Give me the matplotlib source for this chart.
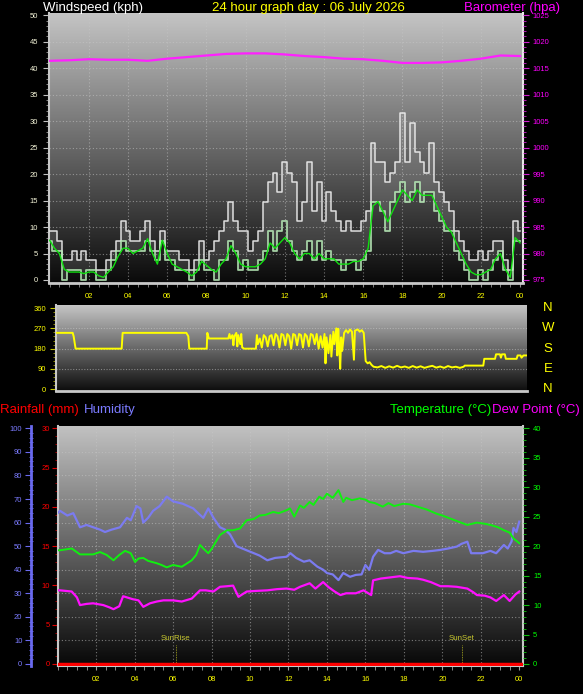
import numpy as np
import matplotlib
matplotlib.use("Agg")
import matplotlib.pyplot as plt
from matplotlib.ticker import MultipleLocator

plt.rcParams['font.family'] = ['Liberation Sans', 'DejaVu Sans']

W, H = 583, 694

# ---- wind speed (kph), 15 minute samples ----
wind_hours = np.arange(0, 24.01, 0.25)
gust = [9.2, 9.2, 7.4, 3.7, 3.7, 5.5, 3.7, 5.5,
        3.7, 3.7, 1.8, 1.8, 3.7, 5.5, 7.4, 11.1,
        9.2, 7.4, 7.4, 9.2, 11.1, 7.4, 5.5, 9.2,
        5.5, 5.5, 5.5, 3.7, 3.7, 1.8, 3.7, 7.4,
        3.7, 5.5, 7.4, 9.2, 11.1, 14.8, 11.1, 9.2,
        9.2, 5.5, 7.4, 9.2, 14.8, 18.5, 20.3, 16.6,
        22.2, 20.3, 18.5, 11.1, 14.8, 22.2, 13.0, 18.5,
        11.1, 16.6, 13.0, 11.1, 9.2, 11.1, 9.2, 9.2,
        11.1, 13.0, 25.9, 22.2, 22.2, 18.5, 20.3, 22.2,
        31.5, 22.2, 29.6, 24.1, 22.2, 20.3, 25.9, 18.5,
        16.6, 14.8, 13.0, 9.2, 7.4, 5.5, 3.7, 3.7,
        5.5, 3.7, 5.5, 7.4, 7.4, 3.7, 1.8, 11.1,
        9.2]
speed = [7.4, 5.5, 5.5, 0, 1.8, 1.8, 1.8, 0,
         1.8, 1.8, 0, 0, 1.8, 3.7, 5.5, 7.4,
         5.5, 5.5, 5.5, 5.5, 7.4, 5.5, 3.7, 7.4,
         3.7, 3.7, 1.8, 1.8, 1.8, 0, 1.8, 3.7,
         1.8, 1.8, 0, 3.7, 3.7, 7.4, 5.5, 1.8,
         3.7, 1.8, 1.8, 3.7, 5.5, 9.2, 5.5, 9.2,
         11.1, 7.4, 5.5, 3.7, 5.5, 7.4, 3.7, 7.4,
         3.7, 5.5, 3.7, 3.7, 1.8, 3.7, 3.7, 1.8,
         3.7, 5.5, 14.8, 14.8, 13.0, 9.2, 14.8, 16.6,
         18.5, 14.8, 16.6, 18.5, 14.8, 16.6, 16.6, 13.0,
         11.1, 9.2, 9.2, 5.5, 3.7, 1.8, 0, 0,
         1.8, 0, 1.8, 3.7, 5.5, 1.8, 0, 7.4,
         7.4]
avg_speed = [7.5, 6.0, 5.0, 2.0, 1.5, 1.5, 1.5, 1.2,
             1.5, 1.5, 0.8, 0.5, 1.5, 2.5, 4.5, 6.0,
             6.0, 5.0, 5.5, 6.0, 7.8, 5.0, 3.0, 7.5,
             5.0, 3.0, 2.5, 2.0, 1.5, 0.8, 1.5, 3.5,
             2.8, 2.0, 1.5, 3.0, 4.0, 6.5, 5.0, 3.0,
             2.5, 2.5, 2.5, 3.0, 4.0, 7.0, 6.0, 7.0,
             8.0, 7.0, 5.0, 4.0, 5.0, 5.0, 4.0, 5.0,
             4.0, 4.0, 4.0, 3.0, 3.0, 3.0, 3.5, 3.5,
             4.0, 6.0, 14.0, 14.8, 13.0, 11.0, 13.0, 15.0,
             17.0, 16.0, 15.0, 17.0, 16.0, 16.0, 16.0, 14.0,
             12.0, 10.0, 9.0, 7.0, 5.0, 3.0, 1.5, 1.0,
             1.0, 1.5, 2.0, 4.0, 5.0, 2.0, 0.5, 8.0,
             7.0]

# ---- barometer (hPa), hourly ----
baro_hours = list(range(25))
baro = [1016.4, 1016.5, 1016.7, 1016.6, 1016.6, 1016.4, 1016.8, 1017.1,
        1017.4, 1017.7, 1017.8, 1017.8, 1017.6, 1017.3, 1017.1, 1016.8,
        1016.7, 1016.4, 1016.0, 1016.0, 1016.1, 1016.4, 1016.8, 1017.4,
        1017.3]

# ---- wind direction (deg) ----
dir_hours = [0.0, 0.85, 0.9, 1.0, 3.35, 3.4, 6.65, 6.75, 6.8, 7.69, 7.72, 7.8, 8.79,
             8.85, 8.9, 9.0, 9.05, 9.1, 9.2, 9.25, 9.3, 9.4, 9.45, 9.5, 9.6, 10.2,
             10.25, 10.3, 10.4, 10.5, 10.6, 10.7, 10.8, 10.9, 11.0, 11.1, 11.2, 11.3,
             11.4, 11.5, 11.6, 11.7, 11.8, 11.9, 12.0, 12.1, 12.2, 12.3, 12.4, 12.5,
             12.6, 12.7, 12.8, 12.9, 13.0, 13.1, 13.2, 13.3, 13.4, 13.5, 13.6, 13.7,
             13.75, 13.8, 13.9, 14.0, 14.05, 14.15, 14.2, 14.3, 14.35, 14.4, 14.45,
             14.5, 14.55, 14.6, 14.7, 14.8, 14.9, 15.0, 15.1, 15.2, 15.25, 15.4, 15.5,
             15.6, 15.7, 15.8, 15.9, 16.0, 16.1, 16.2, 16.4, 16.6, 16.8, 17.0, 17.2,
             17.4, 17.6, 17.8, 18.0, 18.2, 18.4, 18.6, 18.8, 19.0, 19.2, 19.4, 19.6,
             19.8, 20.0, 20.2, 20.4, 20.6, 20.8, 20.85, 21.8, 21.85, 22.4, 22.45,
             22.65, 22.7, 22.75, 22.9, 22.95, 23.5, 23.55, 23.7, 23.75, 23.85, 24.0]
dir_deg = [250, 250, 235, 180, 180, 250, 250, 235, 180, 180, 250, 225, 225,
           245, 225, 240, 195, 235, 250, 190, 240, 200, 245, 185, 180, 180,
           240, 200, 225, 185, 240, 230, 190, 235, 240, 195, 245, 235,
           185, 245, 240, 195, 245, 235, 180, 245, 240, 195, 245, 240,
           185, 245, 235, 190, 245, 240, 200, 245, 180, 235, 185, 245,
           115, 230, 160, 240, 145, 255, 200, 270, 150, 268, 190,
           91, 230, 170, 250, 262, 250, 265, 255, 131, 260, 265, 255,
           262, 250, 125, 115, 120, 108, 100, 97, 103, 95, 102, 96,
           104, 97, 101, 95, 103, 96, 102, 95, 100, 104, 96, 101,
           95, 103, 97, 100, 95, 100, 105, 105, 135, 135, 155,
           155, 140, 155, 155, 135, 135, 150, 150, 140, 150, 150]

# ---- humidity (%), temperature and dew point (C) ----
hum_hours = [0.0, 0.12, 0.5, 0.81, 1.16, 1.5, 2.2, 2.46, 2.8, 3.24, 3.6, 3.8, 4.1, 4.3,
             4.45, 4.7, 4.96, 5.3, 5.67, 6.0, 6.5, 7.05, 7.3, 7.57, 7.83, 8.1, 8.44,
             8.7, 8.96, 9.3, 9.6, 10.2, 10.5, 10.9, 11.3, 11.9, 12.1, 12.4, 12.8, 13.1,
             13.5, 13.8, 14.0, 14.3, 14.6, 14.85, 15.2, 15.5, 15.8, 16.0, 16.2, 16.4,
             16.66, 17.0, 17.3, 17.6, 17.97, 18.5, 19.0, 19.5, 19.9, 20.3, 20.75, 21.0,
             21.3, 21.5, 22.1, 22.5, 22.8, 23.2, 23.4, 23.6, 23.7, 23.85, 24.0]
hum = [64, 65, 63, 64, 58, 59, 57, 56, 57, 58, 62, 61, 67, 66,
       60, 62, 65, 67, 71, 69, 68, 66, 64, 62, 66, 62, 58,
       57, 55, 50, 49, 47, 46, 44, 45, 45.5, 47, 45, 43.4, 44,
       41.3, 40, 38.6, 38, 35.6, 38.6, 37, 37.8, 38, 42, 40, 45.5,
       48.4, 47, 47, 48, 47, 48, 47.6, 48, 48.4, 49, 49.8, 51,
       51.9, 47, 47, 48, 47, 50.5, 49, 52, 57.7, 56, 60.4]

temp_hours = [0.0, 0.12, 0.73, 1.16, 1.84, 2.2, 2.55, 2.9, 3.2, 3.5, 3.8, 4.02, 4.2,
              4.45, 4.7, 5.15, 5.4, 5.67, 6.0, 6.45, 6.97, 7.2, 7.4, 7.6, 7.83, 8.0,
              8.27, 8.44, 8.8, 9.12, 9.48, 9.83, 10.2, 10.5, 10.8, 11.2, 11.5, 11.9,
              12.08, 12.3, 12.6, 12.8, 13.1, 13.3, 13.6, 13.8, 14.0, 14.3, 14.6, 14.85,
              15.0, 15.3, 15.7, 16.0, 16.2, 16.5, 16.9, 17.2, 17.5, 17.97, 18.3, 18.7,
              19.2, 19.7, 20.0, 20.4, 20.8, 21.3, 21.8, 22.2, 22.5, 22.9, 23.2, 23.5,
              23.7, 24.0]
temp = [19.3, 19.3, 19.6, 18.6, 18.6, 19.0, 18.5, 17.6, 18.5, 19.2, 18.8, 17.3, 17.9,
        18.0, 17.5, 17.1, 16.8, 16.4, 16.8, 16.5, 17.6, 18.5, 20.2, 19.5, 18.8, 19.5,
        21.0, 21.9, 22.7, 22.7, 23.0, 24.4, 24.6, 25.2, 25.3, 25.8, 25.6, 26.1,
        26.4, 25.0, 26.9, 26.5, 27.5, 27.0, 28.4, 28.0, 28.9, 28.2, 29.5, 27.5,
        28.2, 27.8, 28.1, 27.9, 27.5, 27.3, 26.7, 27.3, 26.8, 27.2, 27.1, 26.7,
        26.2, 25.5, 25.2, 24.7, 24.2, 23.6, 24.0, 23.8, 23.6, 23.2, 22.7, 22.3,
        21.3, 20.5]

dew_hours = [0.0, 0.12, 0.73, 1.0, 1.16, 1.5, 1.84, 2.37, 2.7, 2.9, 3.2, 3.4, 3.9, 4.2,
             4.45, 4.8, 5.15, 5.5, 6.0, 6.45, 6.97, 7.4, 7.7, 8.1, 8.44, 8.8, 9.12, 9.4,
             9.83, 10.3, 10.9, 11.4, 11.9, 12.3, 12.6, 13.1, 13.4, 13.8, 14.1, 14.4,
             14.7, 15.0, 15.5, 15.9, 16.3, 16.4, 16.8, 17.3, 17.8, 18.2, 18.7, 19.0,
             19.4, 19.9, 20.3, 20.75, 21.3, 21.6, 21.8, 22.2, 22.5, 22.8, 23.2, 23.5,
             23.8, 24.0]
dew = [12.5, 12.5, 12.3, 11.3, 10.0, 10.2, 10.3, 10.0, 9.6, 9.3, 9.8, 11.5, 11.0, 10.8,
       9.7, 10.3, 10.6, 10.8, 10.8, 10.6, 11.1, 12.5, 12.5, 12.3, 13.1, 13.2, 13.3, 11.4,
       12.3, 12.4, 12.5, 12.7, 12.8, 12.6, 13.1, 13.7, 12.8, 13.9, 13.0, 12.3,
       11.7, 12.0, 12.0, 12.5, 11.7, 14.2, 14.5, 14.7, 14.9, 14.6, 14.5, 14.3,
       13.9, 13.2, 13.2, 13.1, 12.8, 12.2, 11.7, 11.6, 11.3, 10.7, 11.7, 10.7,
       11.8, 12.3]

rain_hours = [0, 24.2]
rain = [0, 0]

sunrise = 6.15
sunset = 21.0

hour_ticks = list(range(2, 25, 2))
hour_labels = ['02', '04', '06', '08', '10', '12', '14', '16', '18', '20', '22', '00']
dir_ticks = [0, 90, 180, 270, 360]
compass = ['N', 'W', 'S', 'E', 'N']


fig = plt.figure(figsize=(W / 100, H / 100), dpi=100, facecolor='black')


def px_axes(left, top, right, bottom):
    return fig.add_axes([left / W, 1 - bottom / H, (right - left) / W, (bottom - top) / H])


def gradient(ax, top, bot):
    g = np.linspace(top, bot, 256)[:, None]
    img = np.dstack([g, g, g])
    ax.imshow(img, extent=[0, 1, 0, 1], transform=ax.transAxes,
              aspect='auto', zorder=0, interpolation='bilinear')


def ftext(x, y, s, **kw):
    fig.text(x / W, 1 - y / H, s, **kw)


grid_kw = dict(color='#c8c8c8', alpha=0.55, lw=0.8, linestyle=(0, (1, 2)))
tick_font = 5.5

# ================= top: wind speed / barometer =================
ax1 = px_axes(49, 13, 523, 283)
gradient(ax1, 0.77, 0.04)
ax1.fill_between(wind_hours, speed, gust, step='mid', color='white', alpha=0.12, lw=0, zorder=2)
ax1.step(wind_hours, gust, where='mid', color='#f0f0f0', lw=1.1, alpha=0.9, zorder=3)
ax1.step(wind_hours, speed, where='mid', color='#b8ecb8', lw=1.3, alpha=0.85, zorder=4)
ax1.plot(wind_hours, avg_speed, color='#10e010', lw=1.0, zorder=5)
ax1.set_xlim(-0.03, 24.15)
ax1.set_ylim(-0.57, 50.43)
for v in range(5, 50, 5):
    ax1.axhline(v, zorder=1, **grid_kw)
for h in hour_ticks[:-1]:
    ax1.axvline(h, zorder=1, **grid_kw)
ax1.set_xticks(hour_ticks)
ax1.set_xticklabels(hour_labels)
ax1.xaxis.set_minor_locator(MultipleLocator(0.5))
ax1.yaxis.set_major_locator(MultipleLocator(5))
ax1.yaxis.set_minor_locator(MultipleLocator(1))
ax1.tick_params(axis='x', which='both', colors='#909090', labelcolor='#ffff00',
                labelsize=tick_font, length=3, pad=4)
ax1.tick_params(axis='y', which='major', colors='#c0c0c0', labelcolor='#f4f4d8',
                labelsize=tick_font, length=4, pad=4)
ax1.tick_params(axis='y', which='minor', colors='#a0a0a0', length=2)
ax1.spines['top'].set_visible(False)
ax1.spines['left'].set_color('#c8c8c8')
ax1.spines['left'].set_linewidth(1.5)
ax1.spines['bottom'].set_color('#c8c8c8')
ax1.spines['bottom'].set_linewidth(2)
ax1.spines['right'].set_color('#e8e8e8')
ax1.spines['right'].set_linewidth(1.5)

ax1b = ax1.twinx()
ax1b.plot(baro_hours, baro, color='#ff20ff', lw=1.6)
ax1b.set_ylim(974.43, 1025.43)
ax1b.yaxis.set_major_locator(MultipleLocator(5))
ax1b.yaxis.set_minor_locator(MultipleLocator(1))
ax1b.tick_params(axis='y', which='major', colors='#d020d0', labelcolor='#ff00ff',
                 labelsize=tick_font, length=4, pad=3)
ax1b.tick_params(axis='y', which='minor', colors='#d020d0', length=2)
for s in ax1b.spines.values():
    s.set_visible(False)

ftext(43, 10.5, 'Windspeed (kph)', color='white', fontsize=9.5, va='baseline')
ftext(308, 10.5, '24 hour graph day : 06 July 2026', color='#ffff00', fontsize=9.5,
      va='baseline', ha='center')
ftext(560, 10.5, 'Barometer (hpa)', color='#ff00ff', fontsize=9.5, va='baseline', ha='right')

# ================= middle: wind direction =================
ax2 = px_axes(56, 304.5, 527, 391)
gradient(ax2, 0.78, 0.05)
ax2.plot(dir_hours, dir_deg, color='#ffff00', lw=1.4, zorder=3)
ax2.set_xlim(0, 24.03)
ax2.set_ylim(-7.5, 375.5)
for v in (90, 180, 270):
    ax2.axhline(v, zorder=1, color='#d0d0d0', alpha=0.5, lw=0.8, linestyle=(0, (1, 1.5)))
ax2.set_yticks(dir_ticks)
ax2.yaxis.set_minor_locator(MultipleLocator(18))
ax2.set_xticks([])
ax2.tick_params(axis='y', which='major', colors='#c8c800', labelcolor='#ffff00',
                labelsize=tick_font, length=4, pad=3)
ax2.tick_params(axis='y', which='minor', colors='#a8a800', length=2)
ax2.spines['top'].set_visible(False)
ax2.spines['right'].set_visible(False)
ax2.spines['left'].set_color('#c8c8c8')
ax2.spines['left'].set_linewidth(1.5)
ax2.spines['bottom'].set_color('#c8c8c8')
ax2.spines['bottom'].set_linewidth(2)
for v, lab in zip(dir_ticks[::-1], compass):
    y = 389.3 - v * 0.2258
    ftext(548, y, lab, color='#ffff00', fontsize=9.5, ha='center', va='center')

# ================= bottom: rain / humidity / temperature =================
ax3 = px_axes(57.7, 425.7, 523.3, 666)
gradient(ax3, 0.76, 0.03)
ax3.set_xlim(0, 24.21)
ax3.set_ylim(-0.255, 30.33)
for v in range(3, 30, 3):
    ax3.axhline(v, zorder=1, **grid_kw)
for h in hour_ticks[:-1]:
    ax3.axvline(h, zorder=1, **grid_kw)
ax3.plot(rain_hours, rain, color='#ff0000', lw=2.5, zorder=6)
for t, lab in ((sunrise, 'SunRise'), (sunset, 'SunSet')):
    ax3.plot([t, t], [0, 2.4], color='#b0b020', lw=0.6, linestyle=(0, (1, 1)), zorder=2)
    ax3.text(t, 3.3, lab, color='#c8c830', fontsize=5.7, ha='center', va='center', zorder=2)
ax3.set_xticks(hour_ticks)
ax3.set_xticklabels(hour_labels)
ax3.xaxis.set_minor_locator(MultipleLocator(0.5))
ax3.yaxis.set_major_locator(MultipleLocator(5))
ax3.yaxis.set_minor_locator(MultipleLocator(1))
ax3.tick_params(axis='x', which='both', colors='#a0a0a0', labelcolor='#ffff00',
                labelsize=tick_font, length=3, pad=4)
ax3.tick_params(axis='y', which='major', colors='#e00000', labelcolor='#ff0000',
                labelsize=tick_font, length=4, pad=1.5)
ax3.tick_params(axis='y', which='minor', colors='#c00000', length=2)
ax3.spines['top'].set_visible(False)
for side in ('left', 'bottom', 'right'):
    ax3.spines[side].set_color('#c8c8c8')
    ax3.spines[side].set_linewidth(1.5)

ax_h = fig.add_axes(ax3.get_position(), sharex=ax3)
ax_h.patch.set_visible(False)
ax_h.plot(hum_hours, hum, color='#7b7bf0', lw=1.6, zorder=3)
ax_h.set_ylim(-0.85, 101.1)
ax_h.xaxis.set_visible(False)
for side in ('top', 'right', 'bottom'):
    ax_h.spines[side].set_visible(False)
ax_h.spines['left'].set_position(('outward', 27 * 0.72))
ax_h.spines['left'].set_color('#6a6af0')
ax_h.spines['left'].set_linewidth(2)
ax_h.yaxis.set_major_locator(MultipleLocator(10))
ax_h.yaxis.set_minor_locator(MultipleLocator(2))
ax_h.tick_params(axis='y', which='major', colors='#6a6af0', labelcolor='#7b7bff',
                 labelsize=tick_font, length=4, pad=2)
ax_h.tick_params(axis='y', which='minor', colors='#6a6af0', length=3, direction='inout')

ax_t = ax3.twinx()
ax_t.plot(temp_hours, temp, color='#10f010', lw=1.4, zorder=3)
ax_t.plot(dew_hours, dew, color='#ff10ff', lw=1.6, zorder=3)
ax_t.set_ylim(-0.34, 40.44)
ax_t.yaxis.set_major_locator(MultipleLocator(5))
ax_t.yaxis.set_minor_locator(MultipleLocator(1))
ax_t.tick_params(axis='y', which='major', colors='#10c010', labelcolor='#00ff00',
                 labelsize=tick_font, length=4, pad=3)
ax_t.tick_params(axis='y', which='minor', colors='#10c010', length=2)
for s in ax_t.spines.values():
    s.set_visible(False)

ftext(0, 412.5, 'Rainfall (mm)', color='#ff0000', fontsize=9.5, va='baseline')
ftext(83.5, 412.5, 'Humidity', color='#7b7bff', fontsize=9.5, va='baseline')
ftext(491.5, 412.5, 'Temperature (°C)', color='#00ff00', fontsize=9.5, va='baseline', ha='right')
ftext(491.5, 412.5, 'Dew Point (°C)', color='#ff00ff', fontsize=9.5, va='baseline')

fig.savefig('out.png', dpi=100, facecolor='black')
